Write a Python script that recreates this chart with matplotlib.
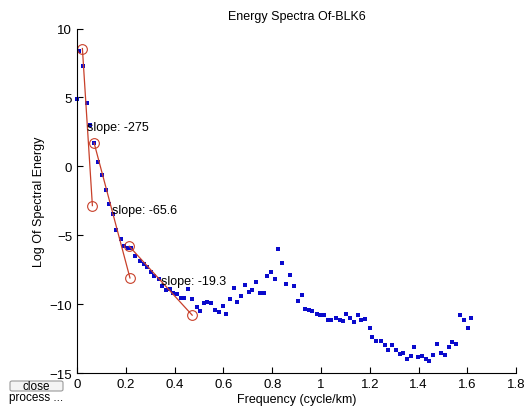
import matplotlib
matplotlib.use("Agg")
import matplotlib.pyplot as plt
from matplotlib.patches import FancyBboxPatch

plt.rcParams["font.family"] = ["Liberation Sans", "DejaVu Sans"]
plt.rcParams["font.size"] = 9

# spectrum
freq = [0.000, 0.008, 0.025, 0.042, 0.053, 0.070, 0.087, 0.104, 0.117, 0.132,
        0.149, 0.161, 0.179, 0.194, 0.208, 0.220, 0.239, 0.258, 0.273, 0.287,
        0.304, 0.317, 0.335, 0.348, 0.364, 0.380, 0.394, 0.410, 0.425, 0.440,
        0.456, 0.473, 0.490, 0.503, 0.520, 0.533, 0.550, 0.566, 0.581, 0.597,
        0.610, 0.627, 0.642, 0.657, 0.671, 0.689, 0.704, 0.718, 0.734, 0.752,
        0.768, 0.780, 0.797, 0.813, 0.825, 0.842, 0.858, 0.874, 0.888, 0.904,
        0.921, 0.934, 0.949, 0.964, 0.982, 0.997, 1.012, 1.028, 1.042, 1.060,
        1.076, 1.091, 1.103, 1.120, 1.136, 1.153, 1.166, 1.181, 1.199, 1.211,
        1.227, 1.245, 1.261, 1.275, 1.292, 1.306, 1.323, 1.337, 1.353, 1.368,
        1.382, 1.398, 1.414, 1.429, 1.444, 1.461, 1.477, 1.490, 1.507, 1.523,
        1.538, 1.553, 1.568, 1.586, 1.601, 1.615]
log_energy = [4.9, 8.4, 7.3, 4.6, 3.0, 1.7, 0.35, -0.6, -1.75, -2.7,
              -3.45, -4.65, -5.25, -5.8, -5.95, -5.95, -6.5, -6.85, -7.1, -7.3,
              -7.7, -7.95, -8.2, -8.7, -9.0, -8.9, -9.2, -9.3, -9.55, -9.55,
              -8.9, -9.6, -10.2, -10.5, -9.9, -9.85, -9.9, -10.4, -10.6, -10.15,
              -10.7, -9.6, -8.8, -9.85, -9.4, -8.6, -9.1, -8.95, -8.4, -9.17,
              -9.17, -7.95, -7.66, -8.18, -6.03, -7.05, -8.54, -7.86, -8.69, -9.78,
              -9.34, -10.36, -10.44, -10.5, -10.75, -10.8, -10.8, -11.17, -11.17, -11.0,
              -11.17, -11.24, -10.7, -11.0, -11.3, -10.8, -11.17, -11.1, -11.75, -12.4,
              -12.7, -12.7, -13.0, -13.3, -13.0, -13.36, -13.65, -13.58, -13.96, -13.8,
              -13.14, -13.87, -13.8, -13.96, -14.1, -13.7, -12.87, -13.58, -13.7, -13.14,
              -12.77, -12.87, -10.78, -11.17, -11.75, -11.0]

# fitted segments: (x0, x1), (y0, y1), label
seg_x = [(0.022, 0.063), (0.070, 0.217), (0.214, 0.472)]
seg_y = [(8.55, -2.85), (1.7, -8.1), (-5.8, -10.8)]
seg_labels = ["slope: -275", "slope: -65.6", "slope: -19.3"]

fig = plt.figure(figsize=(5.24, 4.14), dpi=100)
ax = fig.add_axes([0.147, 0.0966, 0.838, 0.832])

ax.plot(freq, log_energy, linestyle="none", marker="s", markersize=3.4,
        color="#0a0acc", markeredgewidth=0, clip_on=False)

for xs, ys, lab in zip(seg_x, seg_y, seg_labels):
    ax.plot(xs, ys, color="#c8402a", linewidth=0.9, marker="o", markersize=7,
            markerfacecolor="none", markeredgecolor="#c8402a", markeredgewidth=0.8)
    ax.text((xs[0] + xs[1]) / 2, (ys[0] + ys[1]) / 2, lab, ha="left", va="center",
            fontsize=9)

ax.set_xlim(0, 1.8)
ax.set_ylim(-15, 10)
ax.set_xticks([0, 0.2, 0.4, 0.6, 0.8, 1, 1.2, 1.4, 1.6, 1.8])
ax.set_xticklabels(["0", "0.2", "0.4", "0.6", "0.8", "1", "1.2", "1.4", "1.6", "1.8"])
ax.set_yticks([-15, -10, -5, 0, 5, 10])
ax.tick_params(direction="in", length=4, width=0.8, labelsize=9.5)
ax.spines["top"].set_visible(False)
ax.spines["right"].set_visible(False)
ax.set_xlabel("Frequency (cycle/km)", fontsize=9, labelpad=2)
ax.set_ylabel("Log Of Spectral Energy", fontsize=9, labelpad=3)
ax.set_title("Energy Spectra Of-BLK6", fontsize=9, pad=7)

# the gui button in the corner
btn = FancyBboxPatch((10 / 524, 1 - 392 / 414), 53 / 524, 10 / 414,
                     boxstyle="round,pad=0,rounding_size=0.004",
                     transform=fig.transFigure, facecolor="#f4f4f4",
                     edgecolor="#9a9a9a", linewidth=0.8)
fig.patches.append(btn)
fig.text(36 / 524, 1 - 387 / 414, "close", ha="center", va="center", fontsize=8.5)
fig.text(36 / 524, 1 - 398 / 414, "process ...", ha="center", va="center", fontsize=8.5)

fig.savefig("out.png", dpi=100)
